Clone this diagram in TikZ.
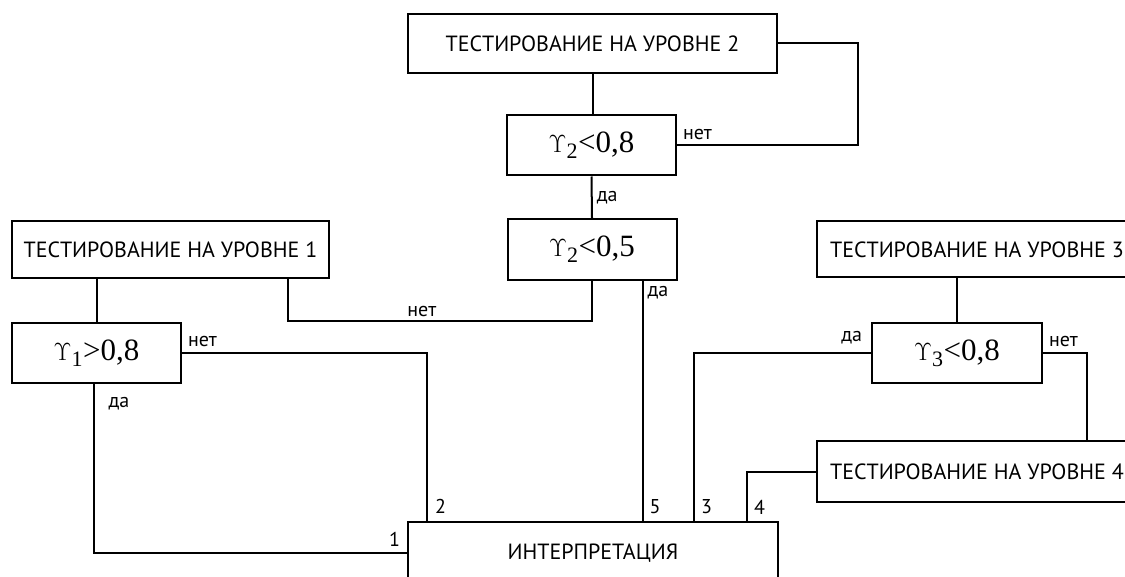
\documentclass[tikz,border=0pt]{standalone}
\usepackage{fontspec}
\setsansfont{PT Sans}
\setmainfont{Liberation Serif}
\usetikzlibrary{calc}

\newcommand{\ups}[2]{$\Upsilon_{\mbox{\fontsize{22}{24}\selectfont #1}}$#2}

\tikzset{
  box/.style={draw, line width=2pt, minimum height=59pt, inner sep=0pt, font=\sffamily\fontsize{22}{26}\selectfont},
  cond/.style={box, minimum width=169pt, minimum height=60pt, font=\rmfamily\fontsize{31}{34}\selectfont},
  lbl/.style={font=\sffamily\fontsize{20}{22}\selectfont, inner sep=4pt},
}

\begin{document}
\begin{tikzpicture}[x=1pt, y=-1pt, line width=2pt]
\clip (0,0) rectangle (1125,577);

% boxes
\node[box, minimum width=369pt] (lvltwo) at (592.5,43.5) {ТЕСТИРОВАНИЕ НА УРОВНЕ 2};
\node[cond] (condtwoa) at (591.5,145.5) {\ups{2}{<0,8}};
\node[cond, minimum height=61pt] (condtwob) at (592,249.5) {\ups{2}{<0,5}};
\node[box, minimum width=317pt, minimum height=57pt] (lvlone) at (170.5,250) {ТЕСТИРОВАНИЕ НА УРОВНЕ 1};
\node[cond] (condone) at (96.5,353) {\ups{1}{>0,8}};
\node[box, minimum width=320pt, minimum height=56pt] (lvlthree) at (977,249.5) {ТЕСТИРОВАНИЕ НА УРОВНЕ 3};
\node[cond, minimum width=170pt] (condthree) at (957,353) {\ups{3}{<0,8}};
\node[box, minimum width=320pt, minimum height=61pt] (lvlfour) at (977,471.5) {ТЕСТИРОВАНИЕ НА УРОВНЕ 4};
\node[box, minimum width=370pt, minimum height=62pt] (interp) at (593,553) {ИНТЕРПРЕТАЦИЯ};

% level 2
\draw (lvltwo.south) -- (lvltwo.south |- condtwoa.north);
\draw (lvltwo.east) -- ++(80,0) |- (condtwoa.east) node[lbl, pos=1, anchor=south west, inner sep=5pt] {нет};
\draw (condtwoa.south) -- (condtwob.north) node[lbl, midway, right] {да};
\draw (condtwob.south) -- ++(0,40) -| ([xshift=-42pt]lvlone.south east) node[lbl, pos=0.28, above, inner sep=3pt] {нет};
\draw ([xshift=-35pt]condtwob.south east) node[lbl, anchor=north west] {да}
  -- ([xshift=-35pt]condtwob.south east |- interp.north) node[lbl, anchor=south west, inner sep=6pt] {5};

% level 1
\draw (condone.north) -- (condone.north |- lvlone.south);
\draw (condone.east) node[lbl, anchor=south west, inner sep=5pt] {нет}
  -| ([xshift=20pt]interp.north west) node[lbl, anchor=south west, inner sep=7pt] {2};
\draw ([xshift=-3pt]condone.south) node[lbl, anchor=north west, xshift=10pt, yshift=-8pt] {да}
  |- (interp.west) node[lbl, anchor=south east, inner sep=6pt] {1};

% level 3 and 4
\draw (condthree.north) -- (condthree.north |- lvlthree.south);
\draw (condthree.west) node[lbl, anchor=south east, inner sep=8pt] {да}
  -| ([xshift=-85pt]interp.north east) node[lbl, anchor=south west, inner sep=6pt] {3};
\draw (condthree.east) node[lbl, anchor=south west, inner sep=5pt] {нет}
  -| ([xshift=271pt]lvlfour.north west);
\draw (lvlfour.west) -| ([xshift=-32pt]interp.north east) node[lbl, anchor=south west, inner sep=6pt] {4};
\end{tikzpicture}
\end{document}
